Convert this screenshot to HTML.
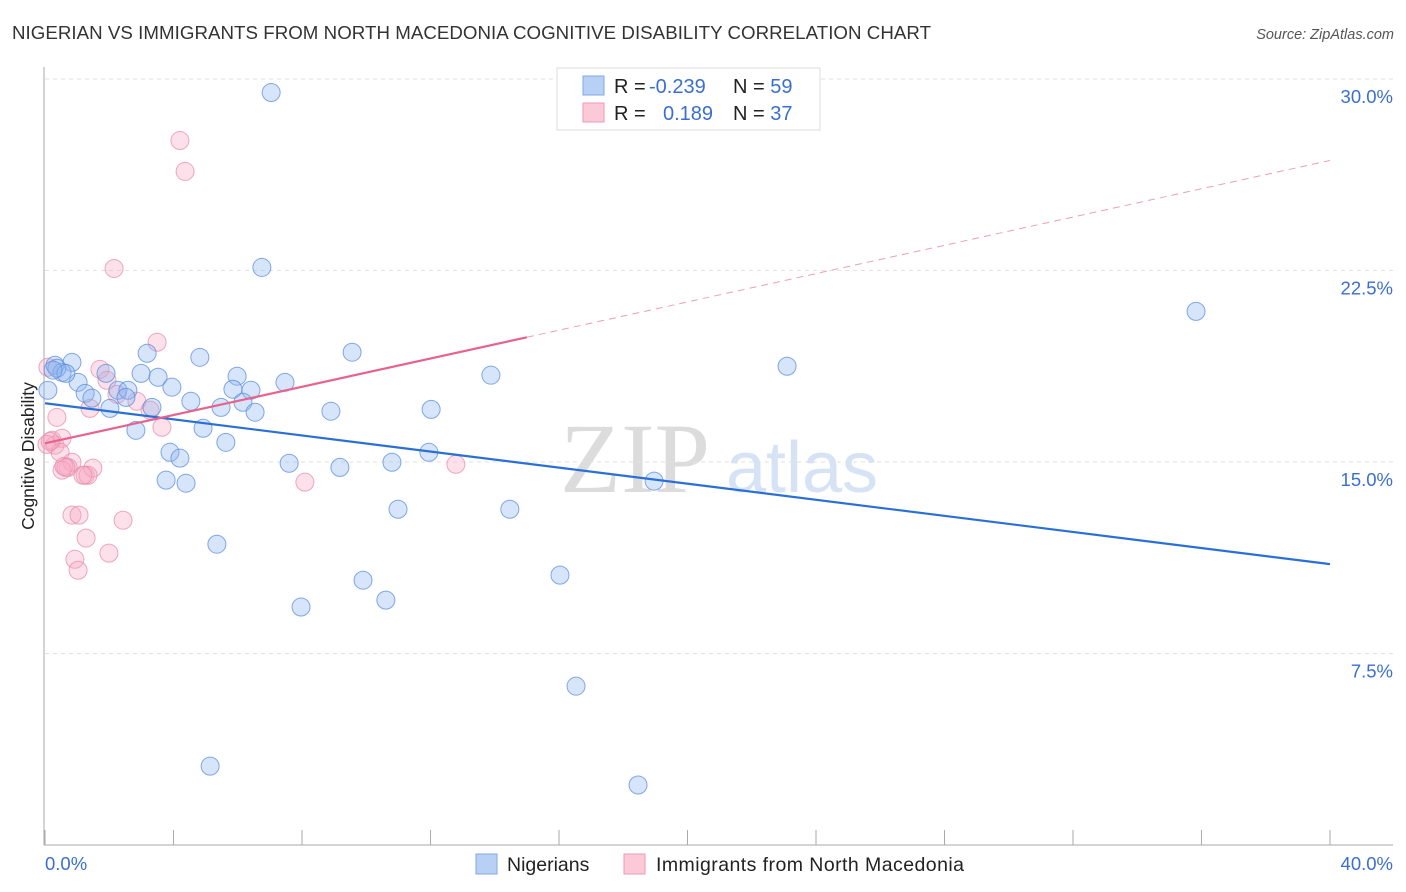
<!DOCTYPE html>
<html><head><meta charset="utf-8"><style>
body{margin:0;background:#fff;font-family:"Liberation Sans",sans-serif;}
svg{display:block}
</style></head><body>
<svg id="chart" width="1406" height="892" xmlns="http://www.w3.org/2000/svg">
<text x="12" y="39" font-size="18.7" fill="#333" textLength="919">NIGERIAN VS IMMIGRANTS FROM NORTH MACEDONIA COGNITIVE DISABILITY CORRELATION CHART</text>
<text x="1394" y="39" font-size="14.5" fill="#555" font-style="italic" text-anchor="end">Source: ZipAtlas.com</text>
<g><text x="635" y="492" font-size="100" fill="#dcdcdc" font-family="Liberation Serif,serif" text-anchor="middle">ZIP</text><text x="802" y="492" font-size="72" fill="#d6e3f5" text-anchor="middle">atlas</text></g>
<g id="grid"></g>
<g id="axes"></g>
<g id="marks"></g>
<g id="lines"></g>
<text transform="translate(34,456) rotate(-90)" font-size="17.5" fill="#222" text-anchor="middle">Cognitive Disability</text>
<g>
<rect x="557" y="68" width="263" height="62" fill="#fff" stroke="#ddd"/>
<rect x="583" y="76" width="21" height="19" fill="#b8d0f4" stroke="#7fa8e6"/>
<rect x="583" y="103" width="21" height="19" fill="#fcc9d8" stroke="#ee9ab4"/>
<text x="614" y="93" font-size="20" fill="#222">R = <tspan fill="#3a6fd0" x="649">-0.239</tspan></text>
<text x="733" y="93" font-size="20" fill="#222">N = <tspan fill="#3a6fd0">59</tspan></text>
<text x="614" y="120" font-size="20" fill="#222">R = <tspan fill="#3a6fd0" x="663">0.189</tspan></text>
<text x="733" y="120" font-size="20" fill="#222">N = <tspan fill="#3a6fd0">37</tspan></text>
</g>
<g>
<rect x="476" y="854" width="21" height="20" fill="#b8d0f4" stroke="#7fa8e6"/>
<text x="507" y="871" font-size="19.5" fill="#222">Nigerians</text>
<rect x="624" y="854" width="21" height="20" fill="#fcc9d8" stroke="#ee9ab4"/>
<text x="656" y="871" font-size="19.5" fill="#222" textLength="308">Immigrants from North Macedonia</text>
</g>
</svg>
<script>
const yTicks=[7.5,15,22.5,30];
const yTickLabels=["7.5%","15.0%","22.5%","30.0%"];
const xTickLabels=["0.0%","40.0%"];
const blueX=[7.04,6.75,35.83,23.10,0.31,0.84,0.53,0.37,0.09,1.03,0.65,1.25,1.46,2.02,1.90,2.27,2.58,2.52,2.83,3.18,2.99,3.33,3.52,3.95,3.89,4.20,3.77,4.39,4.54,4.82,4.92,5.48,5.63,5.35,5.98,5.85,6.41,6.16,6.54,7.47,7.60,7.97,8.90,9.18,9.56,9.90,10.61,10.80,10.99,12.02,11.95,13.88,14.47,16.03,16.53,18.96,18.46,5.14,0.25];
const blueY=[29.47,22.62,20.90,18.75,18.79,18.90,18.51,18.67,17.81,18.12,18.47,17.69,17.50,17.10,18.47,17.81,17.81,17.53,16.24,19.26,18.47,17.14,18.32,17.93,15.38,15.15,14.29,14.17,17.38,19.10,16.32,17.14,15.77,11.78,18.36,17.85,17.81,17.34,16.95,18.12,14.95,9.32,16.99,14.79,19.30,10.37,9.59,14.99,13.15,17.06,15.38,18.40,13.15,10.57,6.22,14.25,2.35,3.09,18.6];
const pinkX=[4.20,4.36,2.15,3.49,1.71,1.93,2.24,2.86,3.27,3.64,1.40,0.37,0.09,0.22,0.31,0.53,0.06,0.47,0.84,0.72,0.53,1.25,1.49,1.34,1.18,0.84,1.06,1.28,2.43,0.93,1.99,1.03,8.09,12.79,0.16,0.59,0.65];
const pinkY=[27.59,26.38,22.58,19.69,18.63,18.20,17.65,17.38,17.03,16.36,17.10,16.75,18.71,15.85,15.66,15.93,15.69,15.38,14.99,14.79,14.68,14.48,14.76,14.48,14.48,12.92,12.92,12.02,12.72,11.19,11.43,10.76,14.21,14.91,15.81,14.83,14.79];
const blueTrend=[17.30,11.0];
const pinkTrend=[15.73,26.81];
const pinkSolidEnd=15.0;
const NS="http://www.w3.org/2000/svg";
const X0=45,X1=1330,Y0=845,Y30=79;
const sx=v=>X0+(X1-X0)*v/40;
const sy=v=>Y0-(Y0-Y30)*v/30;
function mk(t,a,p){const e=document.createElementNS(NS,t);for(const k in a)e.setAttribute(k,a[k]);p.appendChild(e);return e;}
const grid=document.getElementById('grid'),axes=document.getElementById('axes'),marks=document.getElementById('marks'),lines=document.getElementById('lines');
yTicks.forEach((t,i)=>{
 const g=mk('line',{x1:X0,x2:1393,y1:sy(t),y2:sy(t),stroke:'#e2e2e2','stroke-dasharray':'4,4'},grid);
 
 
 const tx=mk('text',{x:1393,y:sy(t)+24,'font-size':18.5,fill:'#3a6fd0','text-anchor':'end'},axes);
 tx.textContent=yTickLabels[i];
 
 
});
const ya=mk('line',{x1:44,x2:44,y1:67,y2:Y0,stroke:'#aaa'},axes);


const xa=mk('line',{x1:44,x2:1393,y1:Y0,y2:Y0,stroke:'#aaa'},axes);


for(let i=0;i<=10;i++){const v=i*4;const t=mk('line',{x1:sx(v),x2:sx(v),y1:830,y2:Y0,stroke:'#aaa'},axes);
 
 }
[[0,'start',X0],[40,'end',1393]].forEach((d,i)=>{const t=mk('text',{x:d[2],y:870,'font-size':18.5,fill:'#3a6fd0','text-anchor':d[1]},axes);t.textContent=xTickLabels[i];
 
 });
function pts(xs,ys,fill,stroke,name){xs.forEach((x,i)=>{const c=mk('circle',{cx:sx(x),cy:sy(ys[i]),r:9,fill:fill,stroke:stroke,'stroke-width':1},marks);
 
 });}
pts(pinkX,pinkY,'rgba(246,170,195,0.35)','rgba(232,140,170,0.75)','macedonia-point');
pts(blueX,blueY,'rgba(140,180,240,0.35)','rgba(90,140,220,0.75)','nigerian-point');
const bl=mk('line',{x1:sx(0),y1:sy(blueTrend[0]),x2:sx(40),y2:sy(blueTrend[1]),stroke:'#2a6fd6','stroke-width':2.2},lines);


const pe=pinkTrend[0]+(pinkTrend[1]-pinkTrend[0])*pinkSolidEnd/40;
const pl=mk('line',{x1:sx(0),y1:sy(pinkTrend[0]),x2:sx(pinkSolidEnd),y2:sy(pe),stroke:'#e8628e','stroke-width':2.2},lines);


const pd=mk('line',{x1:sx(pinkSolidEnd),y1:sy(pe),x2:sx(40),y2:sy(pinkTrend[1]),stroke:'#eaa0b8','stroke-width':1,'stroke-dasharray':'7,5'},lines);


</script>
</body></html>
